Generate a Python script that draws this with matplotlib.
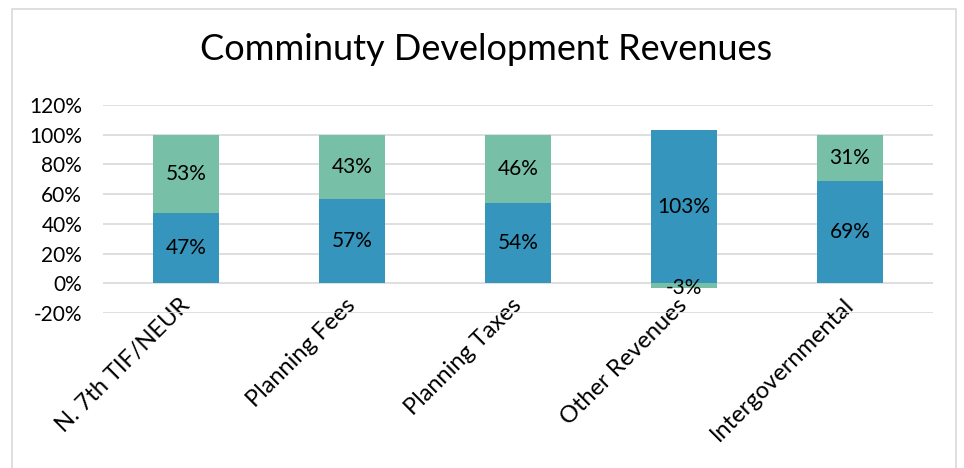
import matplotlib
matplotlib.use("Agg")
import matplotlib.pyplot as plt
from matplotlib.patches import Rectangle
from matplotlib.ticker import FuncFormatter

plt.rcParams['font.family'] = ['Lato', 'DejaVu Sans']

# ---- данные ----------------------------------------------------------------
categories = ["N. 7th TIF/NEUR", "Planning Fees", "Planning Taxes",
              "Other Revenues", "Intergovernmental"]
blue_vals = [47, 57, 54, 103, 69]
green_vals = [53, 43, 46, -3, 31]
y_ticks = [-20, 0, 20, 40, 60, 80, 100, 120]

BLUE = "#3595BD"
GREEN = "#77BFA6"

fig = plt.figure(figsize=(9.64, 4.68), dpi=100)
# серая рамка вокруг всей диаграммы
fig.patches.append(Rectangle((12 / 964, -0.05), 944 / 964, 1.0 - 9 / 468 + 0.05,
                             transform=fig.transFigure, fill=False,
                             edgecolor="#D9D9D9", linewidth=1.2))

ax = fig.add_axes([103 / 964, 1 - 313 / 468, 830 / 964, 208 / 468])

x = list(range(len(categories)))
ax.bar(x, blue_vals, width=0.4, color=BLUE, zorder=2)
# зелёная часть: над синей, если положительная, иначе — ниже нуля
green_bottom = [b if g >= 0 else 0 for b, g in zip(blue_vals, green_vals)]
ax.bar(x, green_vals, width=0.4, bottom=green_bottom, color=GREEN, zorder=2)

for i, (b, g) in enumerate(zip(blue_vals, green_vals)):
    ax.text(i, b / 2, f"{b}%", ha="center", va="center", fontsize=15, zorder=3)
    if g >= 0:
        ax.text(i, b + g / 2, f"{g}%", ha="center", va="center", fontsize=15, zorder=3)
    else:
        ax.text(i, g, f"{g}%", ha="center", va="center", fontsize=15, zorder=3)

ax.set_xlim(-0.5, len(categories) - 0.5)
ax.set_ylim(-20, 120)
ax.set_yticks(y_ticks)
ax.yaxis.set_major_formatter(FuncFormatter(lambda v, p: f"{v:.0f}%"))
ax.grid(axis="y", color="#D9D9D9", linewidth=1.2, zorder=0)
ax.set_axisbelow(True)
for s in ax.spines.values():
    s.set_visible(False)
ax.tick_params(axis="y", length=0, labelsize=15, pad=15)
ax.tick_params(axis="x", length=0, labelsize=17, pad=-8)
ax.set_xticks(x)
ax.set_xticklabels(categories, rotation=45, ha="right", va="center",
                   rotation_mode="anchor")

fig.text(486 / 964, 1 - 50 / 468, "Comminuty Development Revenues",
         ha="center", va="center", fontsize=26)

fig.savefig("out.png", dpi=100)
